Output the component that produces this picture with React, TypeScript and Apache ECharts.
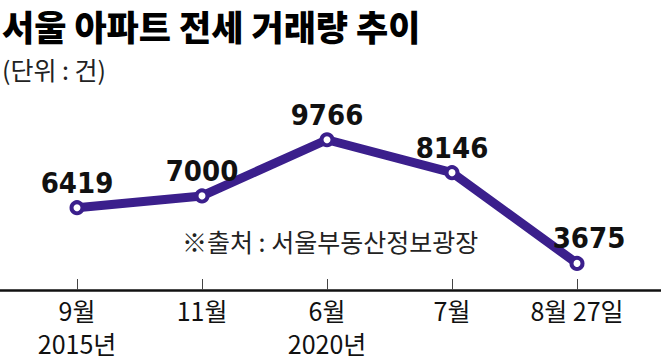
import React, { useEffect, useRef } from "react";
import * as echarts from "echarts";

const categories = ["9월\n2015년", "11월", "6월\n2020년", "7월", "8월 27일"];
const values = [6419, 7000, 9766, 8146, 3675];
const titleText = "서울 아파트 전세 거래량 추이";
const unitText = "(단위 : 건)";
const sourceText = "※출처 : 서울부동산정보광장";

const PURPLE = "#3b1f8c";
const NARROW = "'Liberation Sans Narrow', 'DejaVu Sans Condensed', 'Noto Sans CJK KR', sans-serif";
const KR = "'Noto Sans CJK KR', 'Noto Sans', sans-serif";

export default function App() {
  const ref = useRef<HTMLDivElement>(null);
  useEffect(() => {
    document.body.style.margin = "0";
    const chart = echarts.init(ref.current!, undefined, { renderer: "svg" });
    chart.setOption({
      animation: false,
      backgroundColor: "#ffffff",
      title: {
        text: titleText,
        subtext: unitText,
        left: 2,
        top: 6,
        padding: 0,
        itemGap: 12,
        textStyle: { fontSize: 35, fontWeight: 900, color: "#000", fontFamily: KR, lineHeight: 38 },
        subtextStyle: { fontSize: 25, color: "#222", fontFamily: KR },
      },
      graphic: [
        {
          type: "text",
          left: 182,
          top: 228,
          style: { text: sourceText, fontSize: 25, fill: "#222", fontFamily: KR },
        },
      ],
      grid: [
        { left: 77, right: 84, top: 135, bottom: 26 },
        { left: 77, right: 84, top: 100, bottom: 74 },
        { left: 0, right: 0, top: 100, bottom: 74 },
      ],
      xAxis: [
        { type: "category", gridIndex: 0, data: categories, boundaryGap: false, show: false },
        {
          type: "category",
          gridIndex: 1,
          data: categories,
          boundaryGap: false,
          axisLine: { show: false },
          axisTick: { show: true, inside: true, length: 11, lineStyle: { color: "#444", width: 1 } },
          axisLabel: { margin: 3, fontSize: 25, lineHeight: 33, color: "#111", fontFamily: KR, interval: 0 },
          splitLine: { show: false },
        },
        {
          type: "value",
          gridIndex: 2,
          min: 0,
          max: 1,
          axisLine: { show: true, onZero: false, lineStyle: { color: "#111", width: 2.5 } },
          axisTick: { show: false },
          axisLabel: { show: false },
          splitLine: { show: false },
        },
      ],
      yAxis: [
        { type: "value", gridIndex: 0, min: 0, max: 10000, show: false },
        { type: "value", gridIndex: 1, show: false },
        { type: "value", gridIndex: 2, show: false },
      ],
      series: [
        {
          type: "line",
          xAxisIndex: 0,
          yAxisIndex: 0,
          data: values.map((v, i) =>
            i === values.length - 1 ? { value: v, label: { offset: [12, 0] } } : v
          ),
          symbol: "circle",
          symbolSize: 11,
          lineStyle: { color: PURPLE, width: 9 },
          itemStyle: { color: "#fff", borderColor: PURPLE, borderWidth: 4 },
          label: {
            show: true,
            position: "top",
            distance: 3,
            fontSize: 29,
            fontWeight: "bold",
            color: "#111",
            fontFamily: NARROW,
          },
          z: 5,
        },
      ],
    });
    return () => chart.dispose();
  }, []);
  return <div ref={ref} style={{ width: 661, height: 364 }} />;
}
